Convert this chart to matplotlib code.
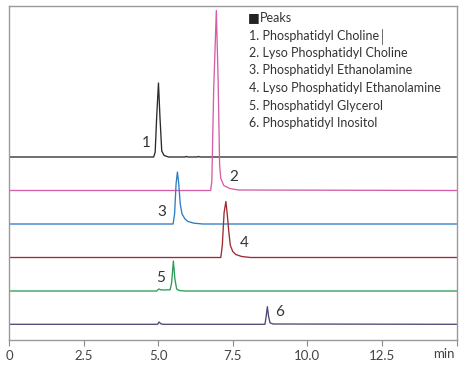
import matplotlib
matplotlib.use("Agg")
import matplotlib.pyplot as plt

# Chromatogram traces: (retention time in min, signal above baseline)
t_pc = [0, 4.85, 4.90, 4.95, 5.01, 5.06, 5.12, 5.20, 5.35, 5.90, 5.95, 6.00, 6.30, 6.35, 6.40, 15]
s_pc = [0, 0, 5, 40, 74, 40, 6, 1.5, 0, 0, 0.5, 0, 0, 0.5, 0, 0]

t_lpc = [0, 6.76, 6.80, 6.86, 6.95, 7.01, 7.06, 7.10, 7.20, 7.40, 7.70, 15]
s_lpc = [0, 0, 10, 100, 180, 110, 25, 12, 5, 2, 0.5, 0]

t_pe = [0, 5.50, 5.55, 5.60, 5.645, 5.69, 5.74, 5.80, 5.90, 6.00, 6.20, 6.50, 15]
s_pe = [0, 0, 10, 40, 52, 40, 20, 10, 5, 2.5, 0.8, 0, 0]

t_lpe = [0, 7.10, 7.15, 7.21, 7.27, 7.32, 7.37, 7.42, 7.50, 7.60, 7.80, 8.10, 15]
s_lpe = [0, 0, 12, 45, 56, 42, 25, 12, 6, 3, 1, 0, 0]

t_pg = [0, 4.95, 5.00, 5.03, 5.08, 5.20, 5.40, 5.45, 5.51, 5.56, 5.62, 5.70, 5.90, 15]
s_pg = [0, 0, 1.5, 2, 1.2, 1, 1.2, 8, 30, 12, 2, 0.5, 0, 0]

t_pi = [0, 4.98, 5.03, 5.09, 5.15, 8.58, 8.62, 8.66, 8.70, 8.75, 8.85, 15]
s_pi = [0, 0, 2.3, 0.5, 0, 0, 8, 17.6, 8, 1.5, 0.3, 0]

peak_numbers = ["1", "2", "3", "4", "5", "6"]
peak_names = [
    "Phosphatidyl Choline",
    "Lyso Phosphatidyl Choline",
    "Phosphatidyl Ethanolamine",
    "Lyso Phosphatidyl Ethanolamine",
    "Phosphatidyl Glycerol",
    "Phosphatidyl Inositol",
]
x_ticks = [0, 2.5, 5.0, 7.5, 10.0, 12.5, 15]
x_tick_labels = ["0", "2.5", "5.0", "7.5", "10.0", "12.5", ""]

# stacked traces: (times, signal, baseline offset, colour, label position)
traces = [
    (t_pc, s_pc, 183, "#2b2b2b", (4.60, 197)),
    (t_lpc, s_lpc, 149.5, "#d45fa6", (7.52, 163)),
    (t_pe, s_pe, 116, "#2f7cc4", (5.13, 128)),
    (t_lpe, s_lpe, 82.5, "#9e2a33", (7.89, 97)),
    (t_pg, s_pg, 49, "#2e9a58", (5.07, 62)),
    (t_pi, s_pi, 15.7, "#4b4872", (9.06, 28)),
]

plt.rcParams["font.family"] = ["Lato", "DejaVu Sans"]

fig = plt.figure(figsize=(4.68, 3.71), dpi=100)
ax = fig.add_axes([9 / 468, 31 / 371, 447.5 / 468, 334.5 / 371])

for (t, s, base, color, lab_pos), num in zip(traces, peak_numbers):
    ax.plot(t, [base + v for v in s], color=color, lw=0.95, solid_joinstyle="round")
    ax.text(lab_pos[0], lab_pos[1], num, fontsize=11, color="#333333",
            ha="center", va="center")

ax.set_xlim(0, 15)
ax.set_ylim(0, 334.5)
ax.set_yticks([])
ax.set_xticks(x_ticks)
ax.set_xticklabels(x_tick_labels)
ax.tick_params(axis="x", direction="out", length=4, width=0.8, color="#8a8a8a",
               labelsize=9.5, labelcolor="#444444", pad=3)
for sp in ax.spines.values():
    sp.set_color("#9a9a9a")
    sp.set_linewidth(1.0)
fig.text(455 / 468, 1 - 354 / 371, "min", ha="right", va="center",
         fontsize=9.5, color="#444444")

# peak list in the upper right
lines = ["Peaks"] + [f"{n}. {name}" for n, name in zip(peak_numbers, peak_names)]
y0 = 1 - 18 / 371
dy = 17.5 / 371
for i, line in enumerate(lines):
    x = 260 / 468 if i == 0 else 249 / 468
    fig.text(x, y0 - i * dy, line, fontsize=9, color="#333333", va="center", ha="left")
fig.text(248 / 468, y0, "\u25a0", fontsize=9, color="#222222", va="center", ha="left",
         family=["DejaVu Sans"])
# stray cursor mark after "Choline"
fig.add_artist(plt.Line2D([381.5 / 468, 381.5 / 468], [1 - 29 / 371, 1 - 44 / 371],
                          color="#555555", lw=0.6))

fig.savefig("out.png", dpi=100)
